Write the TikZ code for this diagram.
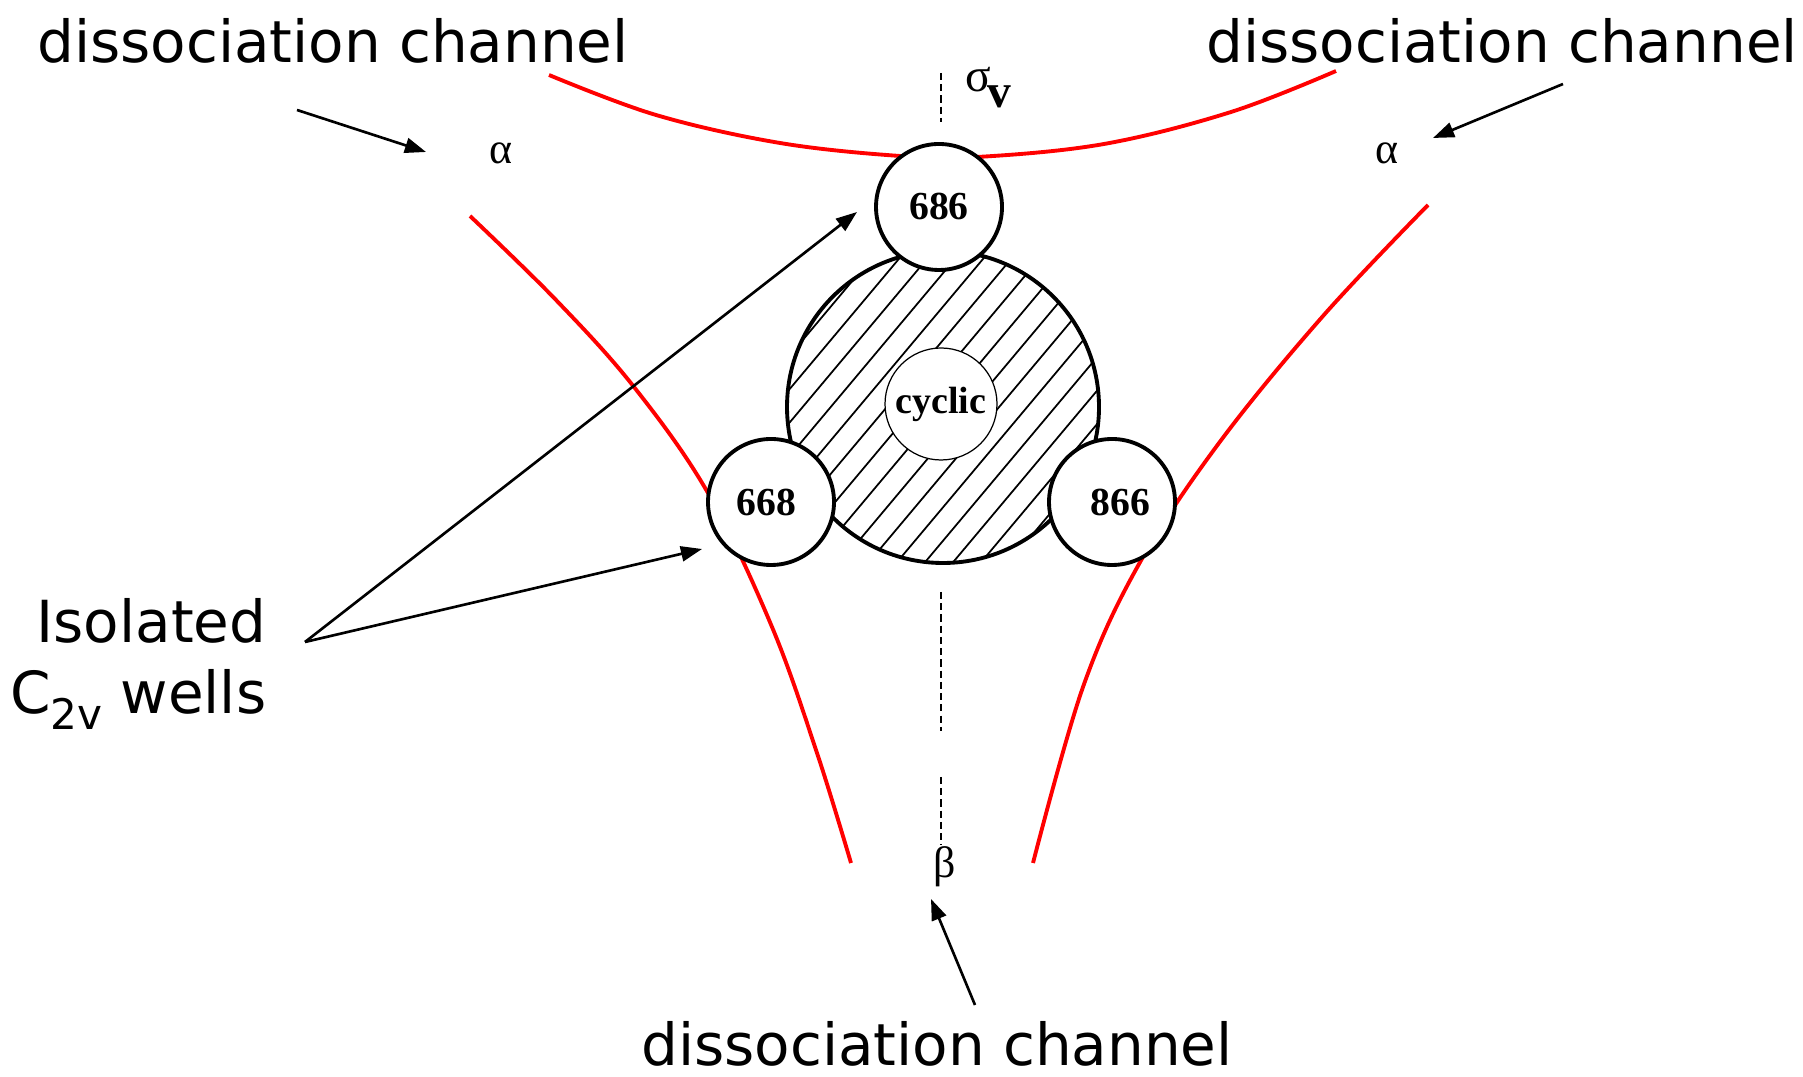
\documentclass[tikz,border=0pt]{standalone}
\usepackage{fontspec}
\setmainfont{DejaVu Sans}
\newfontfamily\serifgr{Liberation Serif}
\usetikzlibrary{arrows.meta}

\begin{document}
\begin{tikzpicture}[x=0.1mm, y=-0.1mm, >={Triangle[length=6pt, width=4.3pt]},
  chan/.style={font=\fontsize{16.5}{20}\selectfont, inner sep=0pt, anchor=base},
  well/.style={circle, draw, line width=1.1pt, fill=white, minimum size=12.6mm,
    inner sep=0pt, font=\serifgr\bfseries\fontsize{11.3}{12}\selectfont},
  greek/.style={font=\serifgr\fontsize{12.5}{14}\selectfont, inner sep=0pt},
  curve/.style={red, line width=1.1pt},
  pointer/.style={->, line width=0.75pt},
  mirror/.style={line width=0.4pt, dash pattern=on 2pt off 1.2pt}]

  \useasboundingbox (0,0) rectangle (1803,1077);

  % --- 1. red channel curves ---
  \draw[curve] plot[smooth, tension=0.6] coordinates {
    (549,75) (656,115) (780,143) (900,156) (977,157) (1104,144) (1231,112) (1336,71)};
  \draw[curve] plot[smooth, tension=0.6] coordinates {
    (470,216) (556,300) (634,387) (708,493) (772,627) (817,753) (851,863)};
  \draw[curve] plot[smooth, tension=0.6] coordinates {
    (1428,205) (1323,316) (1219,443) (1139,564) (1083,687) (1033,863)};

  % --- 2. mirror plane ---
  \draw[mirror] (941,73) -- (941,122);
  \draw[mirror] (941,592) -- (941,731);
  \draw[mirror] (941,777) -- (941,845);

  % --- 3. hatched central well ---
  \node[circle, draw, line width=1.1pt, minimum size=31.2mm, inner sep=0pt] (bigwell) at (943,407) {};
  \begin{scope}
    \clip (bigwell.center) circle[radius=15.6mm];
    \foreach \k in {-7,...,7}
      \draw[line width=0.5pt, shift={(bigwell.center)}, rotate=50] (-17mm,\k*2.15mm) -- (17mm,\k*2.15mm);
  \end{scope}
  \node[circle, draw, line width=0.35pt, fill=white, minimum size=11.2mm, inner sep=0pt,
    font=\serifgr\bfseries\fontsize{10.8}{12}\selectfont] (cyclic) at (941,404) {cyclic};

  % C2v wells
  \node[well] (w686) at (939,207) {686};
  \node[well] (w668) at (771,502) {\kern-2.6pt668};
  \node[well] (w866) at (1112,502) {\kern4.6pt866};

  % --- 4. symmetry labels ---
  \node[greek] (alphaL) at (501,153) {α};
  \node[greek] (alphaR) at (1387,153) {α};
  \node[greek] (betaB) at (945,867) {β};
  \node[greek, font=\serifgr\fontsize{13.5}{14}\selectfont] (sigmaV) at (988,88)
    {σ\kern-1pt\raisebox{-4.5pt}{\bfseries v}};

  % --- 5. texts and pointers ---
  \node[chan] (chanTL) at (333,63) {dissociation channel};
  \node[chan] (chanTR) at (1502,63) {dissociation channel};
  \node[chan] (chanB) at (937,1066) {dissociation channel};
  \node[font=\fontsize{16.5}{20}\selectfont, align=right, anchor=east, inner sep=0pt] (wellsLbl)
    at (267,664) {Isolated\\C\raisebox{-4.5pt}{\fontsize{12}{12}\selectfont 2v} wells};

  \coordinate (tlTail) at (297,110);
  \coordinate (tlTip) at (426,152);
  \coordinate (trTail) at (1563,84);
  \coordinate (trTip) at (1433,138);
  \coordinate (bTail) at (975,1005);
  \coordinate (bTip) at (931,899);
  \coordinate (wTail) at (305,642);
  \coordinate (wTipA) at (857,212);
  \coordinate (wTipB) at (702,549);

  \draw[pointer] (tlTail) -- (tlTip);
  \draw[pointer] (trTail) -- (trTip);
  \draw[pointer] (bTail) -- (bTip);
  \draw[pointer] (wTail) -- (wTipA);
  \draw[pointer] (wTail) -- (wTipB);

\end{tikzpicture}
\end{document}
